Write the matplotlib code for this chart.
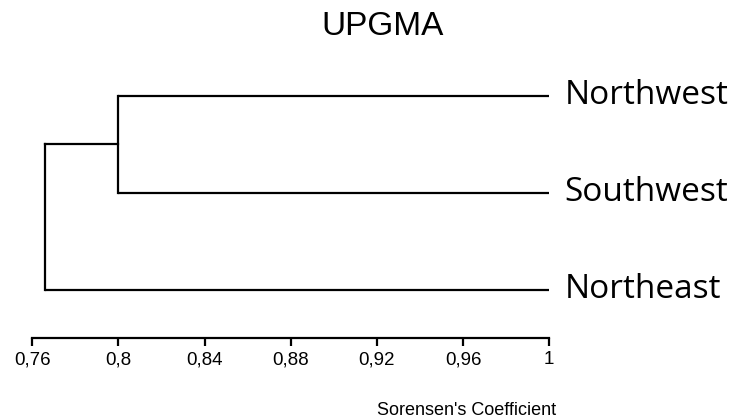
import matplotlib.pyplot as plt
from matplotlib.ticker import FuncFormatter

# leaves, top to bottom
leaves = ["Northwest", "Southwest", "Northeast"]
leaf_sim = 1.0
# merges: (Northwest + Southwest) at 0.80, then with Northeast at 0.766
merge_nw_sw = 0.80
merge_root = 0.766
ticks = [0.76, 0.80, 0.84, 0.88, 0.92, 0.96, 1.0]

fig = plt.figure(figsize=(7.32, 4.18), dpi=100)
ax = fig.add_axes([0.0441, 0.1914, 0.7063, 0.695])

ypos = {"Northwest": 3, "Southwest": 2, "Northeast": 1}
lw = 1.6
col = "black"

# leaf branches
ax.plot([merge_nw_sw, leaf_sim], [ypos["Northwest"]] * 2, color=col, lw=lw, solid_capstyle="butt")
ax.plot([merge_nw_sw, leaf_sim], [ypos["Southwest"]] * 2, color=col, lw=lw, solid_capstyle="butt")
ax.plot([merge_nw_sw, merge_nw_sw], [ypos["Southwest"], ypos["Northwest"]], color=col, lw=lw)
mid = (ypos["Northwest"] + ypos["Southwest"]) / 2
ax.plot([merge_root, merge_nw_sw], [mid, mid], color=col, lw=lw)
ax.plot([merge_root, leaf_sim], [ypos["Northeast"]] * 2, color=col, lw=lw, solid_capstyle="butt")
ax.plot([merge_root, merge_root], [ypos["Northeast"], mid], color=col, lw=lw)

for name in leaves:
    ax.annotate(name, xy=(leaf_sim, ypos[name]), xytext=(11, 0), textcoords="offset points",
                va="center", ha="left", fontsize=24, family="Open Sans", annotation_clip=False)

ax.set_xlim(0.76, 1.0)
ax.set_ylim(0.5, 3.5)
for s in ["top", "right", "left"]:
    ax.spines[s].set_visible(False)
ax.spines["bottom"].set_linewidth(1.6)
ax.set_yticks([])
ax.set_xticks(ticks)
ax.xaxis.set_major_formatter(FuncFormatter(lambda v, p: ("%g" % round(v, 2)).replace(".", ",")))
ax.tick_params(axis="x", length=5.5, width=1.6, labelsize=13.5, pad=4)
for t in ax.get_xticklabels():
    t.set_family("Liberation Sans")

fig.text(0.522, 0.916, "UPGMA", ha="center", va="baseline", fontsize=24, family="Liberation Sans")
fig.text(556 / 732, 0.007, "Sorensen's Coefficient", ha="right", va="baseline", fontsize=13,
         family="Liberation Sans")

fig.savefig("out.png", dpi=100)
